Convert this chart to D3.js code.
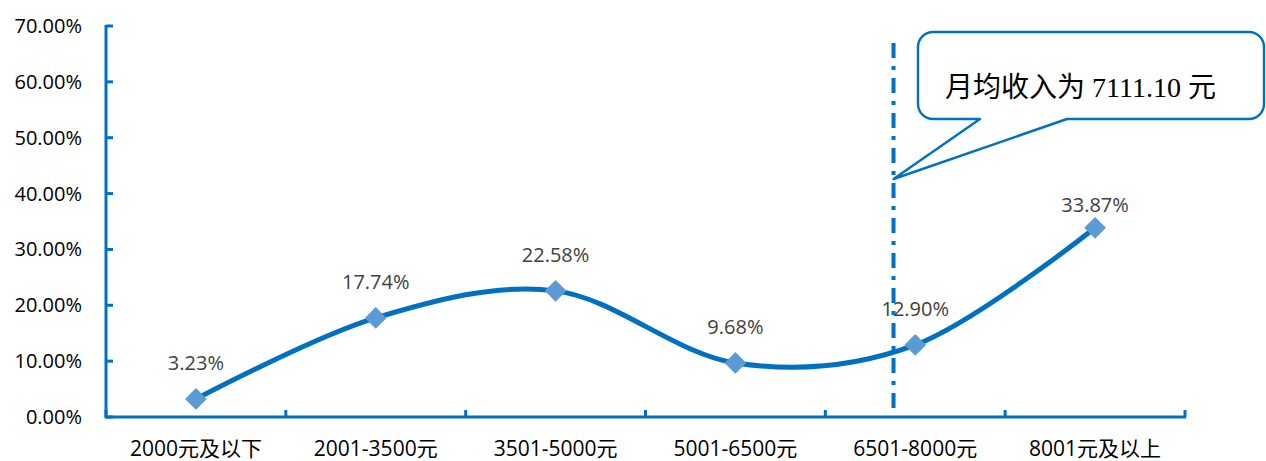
<!DOCTYPE html>
<html>
<head>
<meta charset="utf-8">
<script src="https://cdn.jsdelivr.net/npm/d3@7"></script>
<style>
	html, body { margin: 0; padding: 0; background: #fff; }
	svg { display: block; }
</style>
</head>
<body>
<div id="chart"></div>
<script>
(function () {
	'use strict';

	// data
	var categories = ["2000元及以下", "2001-3500元", "3501-5000元", "5001-6500元", "6501-8000元", "8001元及以上"];
	var shares = [3.23, 17.74, 22.58, 9.68, 12.90, 33.87];
	var yTicks = [0, 10, 20, 30, 40, 50, 60, 70];
	var meanIncome = 7111.10;
	var meanBand = [6501, 8000]; // band that holds the mean
	var calloutText = "月均收入为 7111.10 元";

	var width = 1266, height = 461;
	var margin = {top: 26, right: 81, bottom: 44, left: 106};
	var blue = "#0070C0", markerBlue = "#5B9BD5";

	var svg = d3.select("#chart")
		.append("svg")
		.attr("width", width)
		.attr("height", height);

	var x = d3.scaleBand()
		.domain(categories)
		.range([margin.left, width - margin.right])
		.padding(0);

	var y = d3.scaleLinear()
		.domain([0, 70])
		.range([height - margin.bottom, margin.top]);

	var cx = function(d, i){ return x(categories[i]) + x.bandwidth() / 2; };

	// y axis
	var yAxis = svg.append("g");
	yAxis.append("line")
		.attr("x1", margin.left).attr("x2", margin.left)
		.attr("y1", y(70) - 1).attr("y2", y(0) + 1)
		.attr("stroke", blue).attr("stroke-width", 3);
	yAxis.selectAll("line.tick")
		.data(yTicks)
		.enter()
			.append("line")
			.attr("class", "tick")
			.attr("x1", margin.left).attr("x2", margin.left + 7)
			.attr("y1", function(d){ return y(d); })
			.attr("y2", function(d){ return y(d); })
			.attr("stroke", blue).attr("stroke-width", 3);
	yAxis.selectAll("text")
		.data(yTicks)
		.enter()
			.append("text")
			.attr("x", margin.left - 24)
			.attr("y", function(d){ return y(d); })
			.attr("dy", "0.35em")
			.attr("text-anchor", "end")
			.attr("font-family", "'Open Sans', 'Noto Sans CJK SC', sans-serif")
			.attr("font-size", 20)
			.attr("fill", "#000")
			.text(function(d){ return d.toFixed(2) + "%"; });

	// x axis
	var xAxis = svg.append("g");
	var edges = categories.map(function(c){ return x(c); }).concat([x.range()[1]]);
	xAxis.append("line")
		.attr("x1", margin.left - 1).attr("x2", x.range()[1] + 1)
		.attr("y1", y(0)).attr("y2", y(0))
		.attr("stroke", blue).attr("stroke-width", 3);
	xAxis.selectAll("line.tick")
		.data(edges)
		.enter()
			.append("line")
			.attr("class", "tick")
			.attr("x1", function(d){ return d; })
			.attr("x2", function(d){ return d; })
			.attr("y1", y(0)).attr("y2", y(0) - 7)
			.attr("stroke", blue).attr("stroke-width", 3);
	xAxis.selectAll("text")
		.data(categories)
		.enter()
			.append("text")
			.attr("x", function(d){ return x(d) + x.bandwidth() / 2; })
			.attr("y", height - 5)
			.attr("text-anchor", "middle")
			.attr("font-family", "'Open Sans', 'Noto Sans CJK SC', sans-serif")
			.attr("font-size", 21)
			.attr("fill", "#000")
			.text(function(d){ return d; });

	// data labels (last one sits a bit closer to its point)
	svg.selectAll("text.label")
		.data(shares)
		.enter()
			.append("text")
			.attr("class", "label")
			.attr("x", cx)
			.attr("y", function(d, i){ return y(d) - (i === shares.length - 1 ? 16 : 29); })
			.attr("text-anchor", "middle")
			.attr("font-family", "'Open Sans', sans-serif")
			.attr("font-size", 20)
			.attr("fill", "#404040")
			.text(function(d){ return d.toFixed(2) + "%"; });

	// mean income marker (dash-dot)
	var bandStart = x(categories[4]);
	var income = d3.scaleLinear()
		.domain(meanBand)
		.range([bandStart, bandStart + x.bandwidth()]);
	var mx = income(meanIncome) - 5;
	svg.append("line")
		.attr("x1", mx).attr("x2", mx)
		.attr("y1", 43).attr("y2", y(0) - 5)
		.attr("stroke", blue)
		.attr("stroke-width", 4)
		.attr("stroke-dasharray", "15,8,4,8");

	// series line
	var line = d3.line()
		.x(cx)
		.y(function(d){ return y(d); })
		.curve(d3.curveCardinal.tension(0));

	svg.append("path")
		.datum(shares)
		.attr("d", line)
		.attr("fill", "none")
		.attr("stroke", blue)
		.attr("stroke-width", 5)
		.attr("stroke-linecap", "round");

	svg.selectAll("path.marker")
		.data(shares)
		.enter()
			.append("path")
			.attr("class", "marker")
			.attr("d", d3.symbol().type(d3.symbolDiamond2).size(300))
			.attr("transform", function(d, i){ return "translate(" + cx(d, i) + "," + y(d) + ")"; })
			.attr("fill", markerBlue);

	// callout
	var tipY = 179, rx = 918, ry = 32, rw = 346, rh = 87, r = 15;
	var rb = ry + rh;
	var p = d3.path();
	p.moveTo(rx + r, ry);
	p.lineTo(rx + rw - r, ry);
	p.arcTo(rx + rw, ry, rx + rw, ry + r, r);
	p.lineTo(rx + rw, rb - r);
	p.arcTo(rx + rw, rb, rx + rw - r, rb, r);
	p.lineTo(1067, rb);
	p.lineTo(mx, tipY);
	p.lineTo(980, rb);
	p.lineTo(rx + r, rb);
	p.arcTo(rx, rb, rx, rb - r, r);
	p.lineTo(rx, ry + r);
	p.arcTo(rx, ry, rx + r, ry, r);
	p.closePath();
	svg.append("path")
		.attr("d", p.toString())
		.attr("fill", "#fff")
		.attr("stroke", blue)
		.attr("stroke-width", 2.4)
		.attr("stroke-linejoin", "round");

	svg.append("text")
		.attr("x", 945)
		.attr("y", 97)
		.attr("font-family", "'Liberation Serif', 'Noto Sans CJK SC', serif")
		.attr("font-size", 28)
		.attr("fill", "#000")
		.text(calloutText);
}());
</script>
</body>
</html>
